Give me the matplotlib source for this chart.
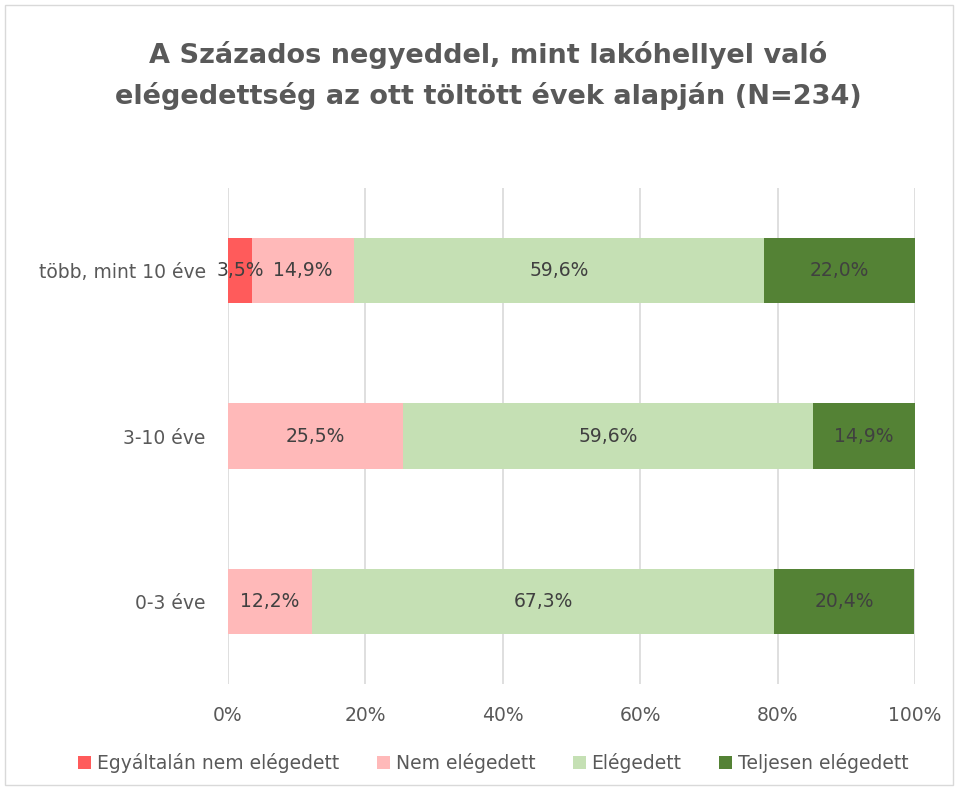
import numpy as np
import matplotlib.pyplot as plt
from matplotlib.patches import Rectangle

categories = ['0-3 éve', '3-10 éve', 'több, mint 10 éve']
egyaltalan = [0.0, 0.0, 3.5]
nem = [12.2, 25.5, 14.9]
elegedett = [67.3, 59.6, 59.6]
teljesen = [20.4, 14.9, 22.0]
series_names = ['Egyáltalán nem elégedett', 'Nem elégedett', 'Elégedett', 'Teljesen elégedett']
colors = ['#FF5B5B', '#FFB9B9', '#C5E0B4', '#548235']
xticks = [0, 20, 40, 60, 80, 100]

plt.rcParams['font.family'] = ['DejaVu Sans']

fig = plt.figure(figsize=(9.58, 7.87), dpi=100)
ax = fig.add_axes([228/958, 1-684/787, (915-228)/958, (684-188)/787])

y = np.arange(len(categories))
left = np.zeros(len(categories))
for vals, name, col in zip([egyaltalan, nem, elegedett, teljesen], series_names, colors):
    vals = np.array(vals)
    ax.barh(y, vals, left=left, height=0.394, color=col, label=name, zorder=3)
    for yi, l, v in zip(y, left, vals):
        if v > 0:
            ax.text(l + v/2, yi, f'{v:.1f}%'.replace('.', ','), ha='center', va='center',
                    fontsize=13.5, color='#404040', zorder=4)
    left += vals

ax.set_xlim(0, 100)
ax.set_ylim(-0.5, 2.5)
ax.set_xticks(xticks)
ax.set_xticklabels([f'{t}%' for t in xticks])
ax.set_yticks(y)
ax.set_yticklabels(categories)
ax.tick_params(length=0, labelsize=13.5, labelcolor='#595959')
ax.tick_params(axis='x', pad=16)
ax.tick_params(axis='y', pad=16)
ax.grid(axis='x', color='#D9D9D9', linewidth=1.2, zorder=0)
for s in ax.spines.values():
    s.set_visible(False)

fig.text(0.51, 0.904, 'A Százados negyeddel, mint lakóhellyel való\nelégedettség az ott töltött évek alapján (N=234)',
         ha='center', va='center', fontsize=19.5, fontweight='bold', color='#595959', linespacing=1.6)

fig.legend(loc='center', bbox_to_anchor=(0.515, 1-763/787), ncol=4, frameon=False,
           fontsize=13.5, handlelength=0.7, handleheight=0.7, handletextpad=0.3,
           columnspacing=2.0, labelcolor='#595959')

fig.patches.append(Rectangle((5/958, 2/787), 948/958, 780/787, transform=fig.transFigure,
                             fill=False, edgecolor='#D9D9D9', linewidth=1))

plt.savefig('out.png', dpi=100)
